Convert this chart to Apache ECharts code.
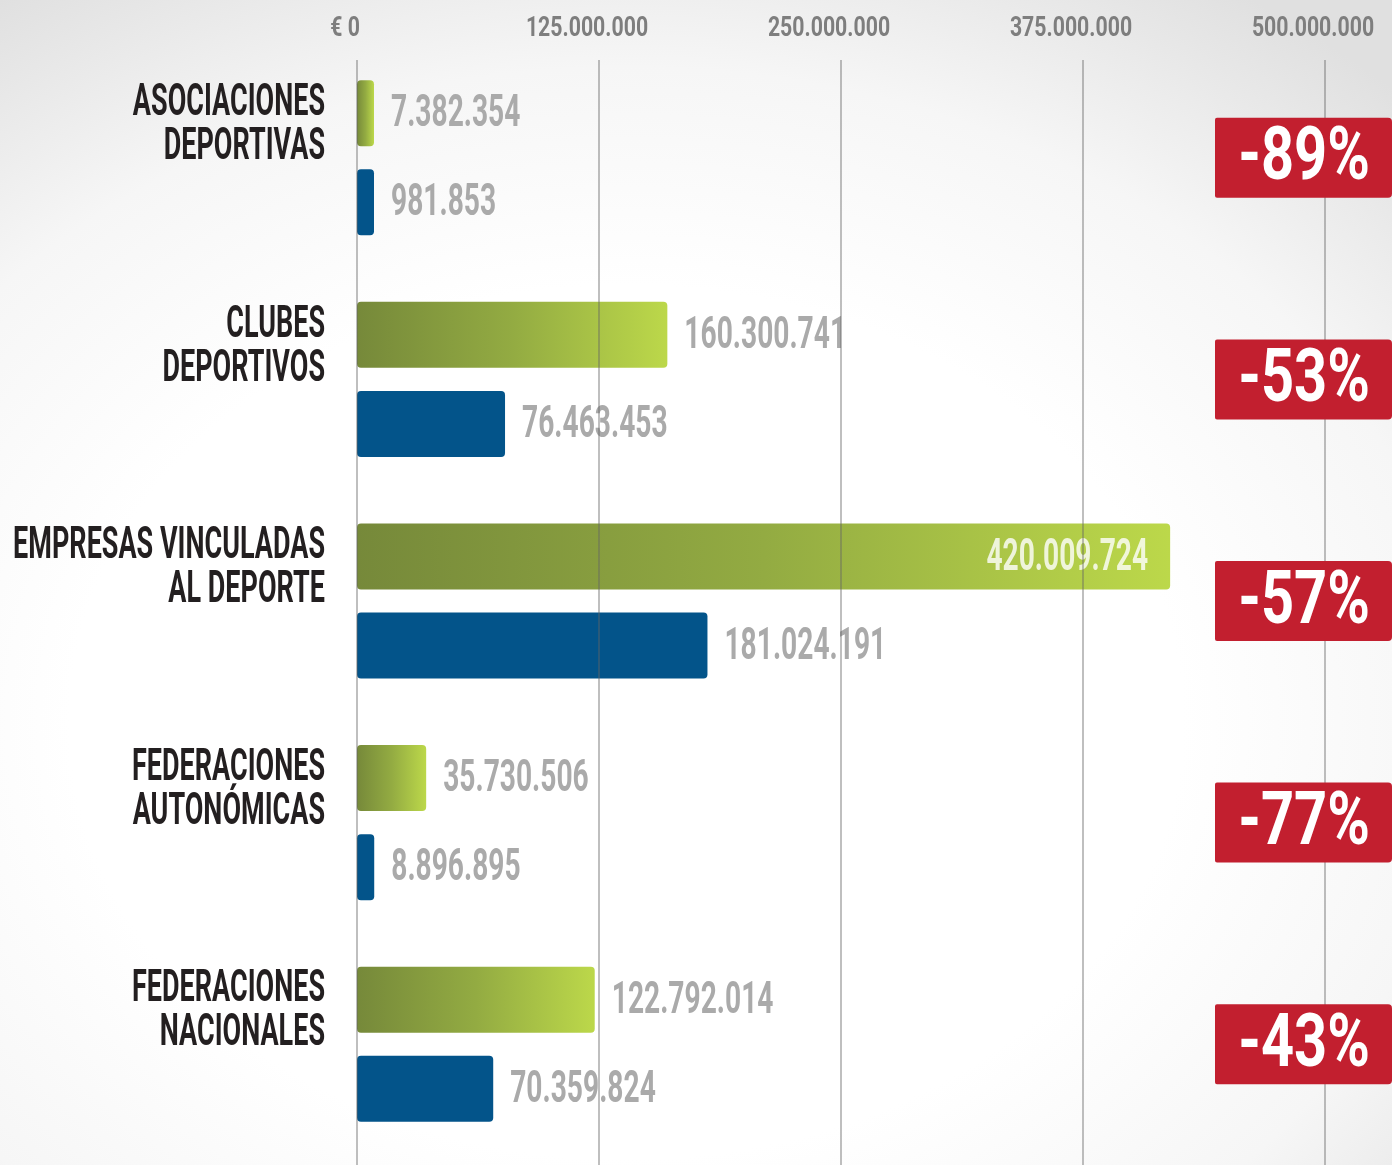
<!DOCTYPE html>
<html>
<head>
<meta charset="utf-8">
<script src="https://cdn.jsdelivr.net/npm/echarts@6.0.0/dist/echarts.min.js"></script>
<style>
  html, body { margin: 0; padding: 0; }
  body {
    width: 1392px;
    height: 1165px;
    background: radial-gradient(ellipse 80% 75% at 45% 62%, #ffffff 50%, #f6f6f6 75%, #e0e0e0 100%);
  }
  #main { width: 1392px; height: 1165px; }
</style>
</head>
<body>
<div id="main"></div>
<script>
// data
const categories = [
  'ASOCIACIONES\nDEPORTIVAS',
  'CLUBES\nDEPORTIVOS',
  'EMPRESAS VINCULADAS\nAL DEPORTE',
  'FEDERACIONES\nAUTONÓMICAS',
  'FEDERACIONES\nNACIONALES'
]
const greenValues = [7382354, 160300741, 420009724, 35730506, 122792014]
const blueValues = [981853, 76463453, 181024191, 8896895, 70359824]
const changes = ['-89%', '-53%', '-57%', '-77%', '-43%']
const tickValues = [0, 125000000, 250000000, 375000000, 500000000]
const tickLabels = ['€ 0', '125.000.000', '250.000.000', '375.000.000', '500.000.000']

const FONT = 'Roboto, "Liberation Sans", sans-serif'
const BAR_W = 66
const HALF_STEP = 44.5 // (bar width + gap) / 2
const MIN_BAR = 17

const fmt = n => String(n).replace(/\B(?=(\d{3})+(?!\d))/g, '.')

const greenFill = new echarts.graphic.LinearGradient(0, 0, 1, 0, [
  { offset: 0, color: '#76893a' },
  { offset: 0.5, color: '#93ab42' },
  { offset: 1, color: '#bcd84a' }
])

// gridlines + tick labels, drawn above the bars
function renderTicks(params, api) {
  const x = api.coord([api.value(0), 0])[0]
  const label = tickLabels[api.value(2)]
  return {
    type: 'group',
    children: [
      {
        type: 'line',
        shape: { x1: x, y1: 60, x2: x, y2: api.getHeight() },
        style: { stroke: 'rgba(100,100,100,0.55)', lineWidth: 1.5 }
      },
      {
        type: 'text',
        x: x - 12,
        y: 29,
        scaleX: 0.76,
        style: {
          text: label,
          x: 0,
          y: 0,
          align: 'center',
          verticalAlign: 'middle',
          fontFamily: FONT,
          fontWeight: 'bold',
          fontSize: 28,
          fill: '#7e7e7e'
        }
      }
    ]
  }
}

function renderCategory(params, api) {
  const p = api.coord([0, api.value(1)])
  return {
    type: 'text',
    x: p[0] - 32,
    y: p[1] - 32,
    scaleX: 0.6,
    style: {
      text: categories[api.value(1)],
      x: 0,
      y: 0,
      align: 'right',
      verticalAlign: 'middle',
      fontFamily: FONT,
      fontWeight: 'bold',
      fontSize: 45,
      lineHeight: 44,
      fill: '#231f20'
    }
  }
}

function renderValue(params, api) {
  const v = api.value(0)
  const x0 = api.coord([0, 0])[0]
  const p = api.coord([v, api.value(1)])
  const end = Math.max(p[0], x0 + MIN_BAR)
  const y = p[1] + (api.value(2) === 0 ? -HALF_STEP : HALF_STEP) + 2
  const inside = end + 150 > api.getWidth() - 177
  return {
    type: 'text',
    x: inside ? end - 22 : end + 17,
    y: y,
    scaleX: 0.64,
    style: {
      text: fmt(v),
      x: 0,
      y: 0,
      align: inside ? 'right' : 'left',
      verticalAlign: 'middle',
      fontFamily: FONT,
      fontWeight: 'bold',
      fontSize: 44,
      fill: inside ? 'rgba(255,255,255,0.8)' : '#aaaaaa'
    }
  }
}

function renderChange(params, api) {
  const p = api.coord([0, api.value(1)])
  const w = api.getWidth()
  return {
    type: 'group',
    children: [
      {
        type: 'rect',
        shape: { x: w - 177, y: p[1] - 40, width: 177, height: 80, r: [2, 4, 4, 2] },
        style: { fill: '#c21f2f' }
      },
      {
        type: 'text',
        x: w - 88,
        y: p[1] + 3,
        scaleX: 0.78,
        style: {
          text: changes[api.value(1)],
          x: 0,
          y: 0,
          align: 'center',
          verticalAlign: 'middle',
          fontFamily: FONT,
          fontWeight: 'bold',
          fontSize: 74,
          fill: '#ffffff'
        }
      }
    ]
  }
}

const valueData = []
greenValues.forEach((v, i) => valueData.push([v, i, 0]))
blueValues.forEach((v, i) => valueData.push([v, i, 1]))

const chart = echarts.init(document.getElementById('main'))

chart.setOption({
  backgroundColor: 'transparent',
  animation: false,
  grid: { left: 357, right: 67, top: 47, bottom: 10 },
  xAxis: {
    type: 'value',
    position: 'top',
    min: 0,
    max: 500000000,
    interval: 125000000,
    axisLabel: { show: false },
    axisLine: { show: false },
    axisTick: { show: false },
    splitLine: { show: false }
  },
  yAxis: {
    type: 'category',
    inverse: true,
    data: categories,
    axisLabel: { show: false },
    axisLine: { show: false },
    axisTick: { show: false }
  },
  series: [
    {
      name: 'green',
      type: 'bar',
      z: 2,
      data: greenValues,
      barWidth: BAR_W,
      barGap: '35%',
      barMinHeight: MIN_BAR,
      itemStyle: { color: greenFill, borderRadius: 4 }
    },
    {
      name: 'blue',
      type: 'bar',
      z: 2,
      data: blueValues,
      barWidth: BAR_W,
      barMinHeight: MIN_BAR,
      itemStyle: { color: '#03548a', borderRadius: 4 }
    },
    {
      name: 'values',
      type: 'custom',
      z: 3,
      renderItem: renderValue,
      encode: { x: 0, y: 1 },
      data: valueData
    },
    {
      name: 'ticks',
      type: 'custom',
      z: 4,
      renderItem: renderTicks,
      encode: { x: 0, y: 1 },
      data: tickValues.map((v, i) => [v, 0, i])
    },
    {
      name: 'categories',
      type: 'custom',
      z: 4,
      renderItem: renderCategory,
      encode: { x: 0, y: 1 },
      data: categories.map((c, i) => [0, i])
    },
    {
      name: 'changes',
      type: 'custom',
      z: 5,
      renderItem: renderChange,
      encode: { x: 0, y: 1 },
      data: changes.map((c, i) => [0, i])
    }
  ]
})
</script>
</body>
</html>
